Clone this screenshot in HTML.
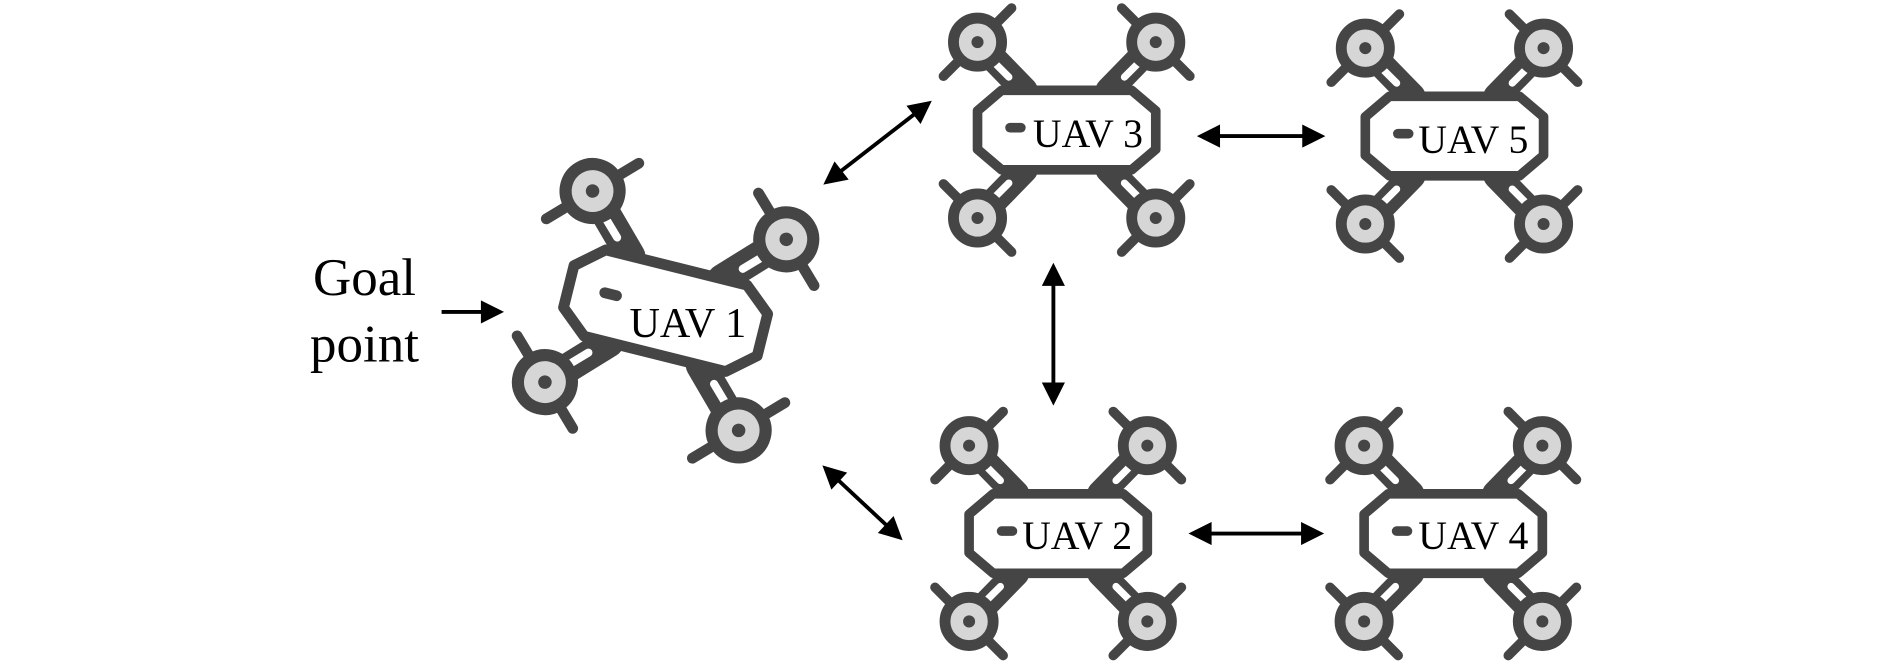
<!DOCTYPE html>
<html><head><meta charset="utf-8"><style>html,body{margin:0;padding:0;background:#fff}svg{display:block}</style></head>
<body>
<svg width="1890" height="666" viewBox="0 0 1568 553" xmlns="http://www.w3.org/2000/svg">
<defs>
<g id="rotor">
  <line x1="-40" y1="0" x2="40" y2="0" stroke="#454545" stroke-width="8" stroke-linecap="round"/>
  <circle r="20" fill="#d6d6d6" stroke="#454545" stroke-width="9"/>
  <circle r="5" fill="#454545"/>
</g>
<g id="drone">
  <g stroke="#454545" stroke-linecap="round">
    <line x1="-74" y1="-73" x2="-35" y2="-33" stroke-width="22"/>
    <line x1="74" y1="-73" x2="35" y2="-33" stroke-width="22"/>
    <line x1="-74" y1="73" x2="-35" y2="33" stroke-width="22"/>
    <line x1="74" y1="73" x2="35" y2="33" stroke-width="22"/>
  </g>
  <g stroke="#fff" stroke-linecap="round" stroke-width="6">
    <line x1="-60" y1="-56" x2="-48" y2="-44"/>
    <line x1="60" y1="-56" x2="48" y2="-44"/>
    <line x1="-60" y1="56" x2="-48" y2="44"/>
    <line x1="60" y1="56" x2="48" y2="44"/>
  </g>
  <use href="#rotor" transform="translate(-74,-73) rotate(-45)"/>
  <use href="#rotor" transform="translate(74,-73) rotate(45)"/>
  <use href="#rotor" transform="translate(-74,73) rotate(45)"/>
  <use href="#rotor" transform="translate(74,73) rotate(-45)"/>
  <polygon points="-54,-33 54,-33 74,-16 74,16 54,33 -54,33 -74,16 -74,-16" fill="#fff" stroke="#454545" stroke-width="8" stroke-linejoin="round"/>
  <line x1="-47" y1="-2" x2="-38" y2="-2" stroke="#454545" stroke-width="8" stroke-linecap="round"/>
</g>
<marker id="ah" viewBox="0 0 10 10" refX="8" refY="5" markerWidth="7" markerHeight="6" orient="auto-start-reverse" markerUnits="strokeWidth">
  <path d="M0,0 L10,5 L0,10 z" fill="#000"/>
</marker>
</defs>

<use href="#drone" transform="translate(885,108)"/>
<use href="#drone" transform="translate(1207,113)"/>
<use href="#drone" transform="translate(878,443)"/>
<use href="#drone" transform="translate(1206,443)"/>
<use href="#drone" transform="translate(552,258) rotate(14) scale(1.12)"/>

<g font-family="Liberation Serif, serif" fill="#000">
  <text x="857" y="122" font-size="33">UAV 3</text>
  <text x="1177" y="127" font-size="33">UAV 5</text>
  <text x="848" y="456" font-size="33">UAV 2</text>
  <text x="1177" y="456" font-size="33">UAV 4</text>
  <text x="522" y="280" font-size="35">UAV 1</text>
  <text x="302" y="245" font-size="44" text-anchor="middle">Goal</text>
  <text x="302" y="300" font-size="44" text-anchor="middle">point</text>
</g>

<g stroke="#000" stroke-width="3.2">
  <line x1="366" y1="259" x2="414" y2="259" marker-end="url(#ah)"/>
  <line x1="686" y1="151" x2="770" y2="86" marker-start="url(#ah)" marker-end="url(#ah)"/>
  <line x1="874" y1="222" x2="874" y2="333" marker-start="url(#ah)" marker-end="url(#ah)"/>
  <line x1="685" y1="389" x2="746" y2="446" marker-start="url(#ah)" marker-end="url(#ah)"/>
  <line x1="997" y1="113" x2="1096" y2="113" marker-start="url(#ah)" marker-end="url(#ah)"/>
  <line x1="990" y1="443" x2="1095" y2="443" marker-start="url(#ah)" marker-end="url(#ah)"/>
</g>
</svg>
</body></html>
